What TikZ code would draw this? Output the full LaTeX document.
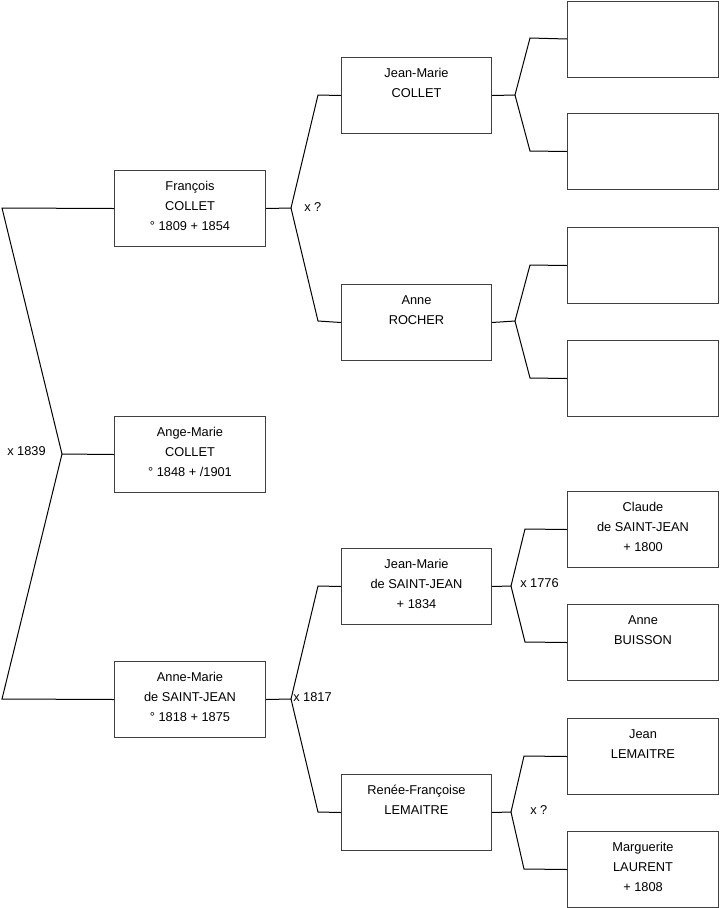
\documentclass[tikz,border=0pt]{standalone}
\usepackage{fontspec}
\setmainfont{Liberation Sans}
\begin{document}
\begin{tikzpicture}[x=0.75pt,y=-0.75pt,
  pbox/.style={draw=black!75, line width=0.75pt, inner sep=0pt, anchor=north west, minimum height=57pt},
  w1/.style={pbox, minimum width=113.25pt},
  w2/.style={pbox, minimum width=112.5pt},
  w3/.style={pbox, minimum width=113.25pt},
  ptext/.style={anchor=north, align=center, inner sep=0pt, font=\fontsize{9.6}{15}\selectfont, yshift=-8.2pt},
  mlabel/.style={anchor=west, inner sep=0pt, font=\fontsize{9.6}{11}\selectfont},
  conn/.style={draw=black, line width=0.75pt}]
\useasboundingbox (0,0) rectangle (719,908);
% level 1
\node[w1] (fc) at (114,170) {};
\node[w1] (ange) at (114,416) {};
\node[w1] (am) at (114,661) {};
% level 2
\node[w2] (jmc) at (341,57) {};
\node[w2] (ar) at (341,284) {};
\node[w2] (jmsj) at (341,548) {};
\node[w2] (rf) at (341,774) {};
% level 3
\node[w3] (g1) at (567,0.5) {};
\node[w3] (g2) at (567,113) {};
\node[w3] (g3) at (567,227) {};
\node[w3] (g4) at (567,340) {};
\node[w3] (cl) at (567,491) {};
\node[w3] (ab) at (567,604) {};
\node[w3] (jl) at (567,718) {};
\node[w3] (ml) at (567,831) {};
% texts
\node[ptext] (tfc) at (fc.north) {François\\COLLET\\° 1809 + 1854};
\node[ptext] (tange) at (ange.north) {Ange-Marie\\COLLET\\° 1848 + /1901};
\node[ptext] (tam) at (am.north) {Anne-Marie\\de SAINT-JEAN\\° 1818 + 1875};
\node[ptext] (tjmc) at (jmc.north) {Jean-Marie\\COLLET};
\node[ptext] (tar) at (ar.north) {Anne\\ROCHER};
\node[ptext] (tjmsj) at (jmsj.north) {Jean-Marie\\de SAINT-JEAN\\+ 1834};
\node[ptext] (trf) at (rf.north) {Renée-Françoise\\LEMAITRE};
\node[ptext] (tcl) at (cl.north) {Claude\\de SAINT-JEAN\\+ 1800};
\node[ptext] (tab) at (ab.north) {Anne\\BUISSON};
\node[ptext] (tjl) at (jl.north) {Jean\\LEMAITRE};
\node[ptext] (tml) at (ml.north) {Marguerite\\LAURENT\\+ 1808};
% coordinates
\coordinate (v0) at (62,454);
\coordinate (a0) at (2,208);
\coordinate (b0) at (2,699);
\coordinate (v1) at (291,208);
\coordinate (a1) at (318,95);
\coordinate (b1) at (318,321);
\coordinate (v2) at (291,699);
\coordinate (a2) at (318,586);
\coordinate (b2) at (318,812);
\coordinate (v3) at (515,95);
\coordinate (a3) at (530,38);
\coordinate (b3) at (530,151);
\coordinate (v4) at (515,321);
\coordinate (a4) at (530,265);
\coordinate (b4) at (530,378);
\coordinate (v5) at (511,586);
\coordinate (a5) at (525,529);
\coordinate (b5) at (525,642);
\coordinate (v6) at (511,812);
\coordinate (a6) at (524,756);
\coordinate (b6) at (524,869);
% connectors
\draw[conn] (fc.west) -- (a0) -- (v0) -- (b0) -- (am.west);
\draw[conn] (v0) -- (ange.west);
\draw[conn] (fc.east) -- (v1) -- (a1) -- (jmc.west);
\draw[conn] (v1) -- (b1) -- (ar.west);
\draw[conn] (am.east) -- (v2) -- (a2) -- (jmsj.west);
\draw[conn] (v2) -- (b2) -- (rf.west);
\draw[conn] (jmc.east) -- (v3) -- (a3) -- (g1.west);
\draw[conn] (v3) -- (b3) -- (g2.west);
\draw[conn] (ar.east) -- (v4) -- (a4) -- (g3.west);
\draw[conn] (v4) -- (b4) -- (g4.west);
\draw[conn] (jmsj.east) -- (v5) -- (a5) -- (cl.west);
\draw[conn] (v5) -- (b5) -- (ab.west);
\draw[conn] (rf.east) -- (v6) -- (a6) -- (jl.west);
\draw[conn] (v6) -- (b6) -- (ml.west);
% marriage labels
\node[mlabel] (m0) at (7,451) {x 1839};
\node[mlabel] (m1) at (304,207) {x ?};
\node[mlabel] (m2) at (293,697) {x 1817};
\node[mlabel] (m3) at (520,583) {x 1776};
\node[mlabel] (m4) at (530,810) {x ?};
\end{tikzpicture}
\end{document}
